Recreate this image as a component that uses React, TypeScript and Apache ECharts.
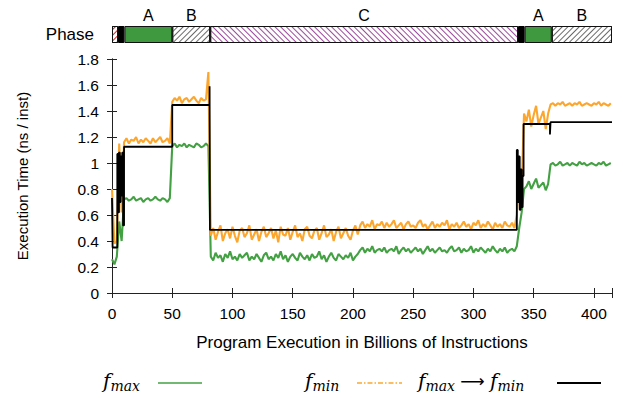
import React, { useEffect, useRef } from 'react';
import * as echarts from 'echarts';

// Phase bar
const phaseNames = ['', '', 'A', 'B', 'C', '', 'A', 'B'];
const phaseStart = [0, 5, 10.3, 50, 81.5, 337, 342.5, 365];
const phaseEnd = [5, 10.3, 50, 81.5, 337, 342.5, 365, 415];
const phaseKind = ['red', 'black', 'green', 'gray', 'purple', 'black', 'green', 'gray'];

// f_min samples (every 2 billion instructions from 0)
const fminVals = [
  0.80, 0.38, 0.40, 1.15, 0.62,
  1.16, 1.19, 1.15, 1.18, 1.17, 1.20, 1.15, 1.18, 1.16, 1.19, 1.17, 1.15, 1.19, 1.16, 1.18, 1.20, 1.16, 1.17, 1.19, 1.15,
  1.47, 1.50, 1.48, 1.51, 1.46, 1.49, 1.50, 1.47, 1.49, 1.51, 1.48, 1.46, 1.50, 1.48, 1.49, 1.70,
  0.44, 0.50, 0.41, 0.47, 0.52, 0.40, 0.46, 0.49, 0.42, 0.51, 0.44, 0.39, 0.48, 0.50, 0.43, 0.46, 0.52, 0.41, 0.45, 0.49,
  0.40, 0.47, 0.51, 0.43, 0.46, 0.50, 0.42, 0.48, 0.39, 0.51, 0.45, 0.44, 0.50, 0.41, 0.47, 0.52, 0.43, 0.46, 0.40, 0.49,
  0.51, 0.44, 0.42, 0.48, 0.50, 0.41, 0.46, 0.52, 0.43, 0.45, 0.49, 0.40, 0.47, 0.51, 0.42, 0.46, 0.50, 0.44, 0.41, 0.48,
  0.52, 0.45,
  0.52, 0.55, 0.50, 0.53, 0.51, 0.56, 0.49, 0.53, 0.52, 0.55, 0.50, 0.54, 0.51, 0.53, 0.56, 0.50, 0.52, 0.54, 0.49, 0.53,
  0.55, 0.51, 0.52, 0.50, 0.54, 0.56, 0.51, 0.53, 0.49, 0.52, 0.55, 0.50, 0.53, 0.51, 0.54, 0.52, 0.56, 0.49, 0.53, 0.51,
  0.54, 0.50, 0.52, 0.55, 0.51, 0.53, 0.49, 0.54, 0.52, 0.56, 0.50, 0.53, 0.51, 0.55, 0.52, 0.49, 0.54, 0.51, 0.53, 0.50,
  0.55, 0.52, 0.51, 0.54, 0.50,
  0.60, 0.95, 0.82, 1.38,
  1.32, 1.41, 1.28, 1.37, 1.44, 1.30, 1.35, 1.40, 1.26, 1.38,
  1.45, 1.46, 1.44, 1.46, 1.45, 1.47, 1.44, 1.45, 1.46, 1.44, 1.46, 1.45, 1.47, 1.44, 1.45, 1.46, 1.45, 1.44, 1.46, 1.45,
  1.47, 1.44, 1.46, 1.45, 1.44, 1.46,
];

// f_max samples (every 2 billion instructions from 0)
const fmaxVals = [
  0.26, 0.22, 0.28, 0.55, 0.40,
  0.72, 0.73, 0.71, 0.72, 0.74, 0.71, 0.72, 0.73, 0.70, 0.72, 0.73, 0.71, 0.72, 0.74, 0.72, 0.71, 0.73, 0.72, 0.70, 0.73,
  1.13, 1.15, 1.12, 1.14, 1.13, 1.15, 1.12, 1.14, 1.13, 1.12, 1.15, 1.14, 1.12, 1.13, 1.15, 1.13,
  0.28, 0.25, 0.31, 0.27, 0.29, 0.24, 0.30, 0.27, 0.32, 0.26, 0.28, 0.25, 0.30, 0.27, 0.29, 0.31, 0.25, 0.28, 0.26, 0.30,
  0.27, 0.24, 0.29, 0.31, 0.26, 0.28, 0.25, 0.30, 0.27, 0.32, 0.26, 0.29, 0.24, 0.28, 0.30, 0.27, 0.25, 0.31, 0.28, 0.26,
  0.29, 0.25, 0.30, 0.27, 0.28, 0.32, 0.26, 0.29, 0.24, 0.28, 0.31, 0.27, 0.25, 0.30, 0.28, 0.26, 0.29, 0.27, 0.31, 0.25,
  0.28, 0.30,
  0.33, 0.35, 0.31, 0.34, 0.32, 0.36, 0.31, 0.33, 0.34, 0.32, 0.35, 0.31, 0.33, 0.34, 0.32, 0.36, 0.30, 0.33, 0.35, 0.32,
  0.34, 0.31, 0.33, 0.35, 0.32, 0.34, 0.30, 0.33, 0.36, 0.32, 0.34, 0.31, 0.33, 0.35, 0.32, 0.33, 0.31, 0.34, 0.36, 0.32,
  0.33, 0.35, 0.31, 0.34, 0.32, 0.33, 0.36, 0.31, 0.34, 0.32, 0.35, 0.33, 0.31, 0.34, 0.32, 0.36, 0.33, 0.31, 0.34, 0.32,
  0.35, 0.31, 0.33, 0.34, 0.32,
  0.36, 0.50, 0.62, 0.80,
  0.82, 0.86, 0.80, 0.84, 0.88, 0.81, 0.83, 0.85, 0.79, 0.84,
  0.99, 1.00, 0.98, 0.99, 1.01, 0.98, 0.99, 1.00, 0.98, 1.00, 0.99, 0.98, 1.01, 0.99, 1.00, 0.98, 0.99, 1.00, 0.99, 0.98,
  1.00, 0.99, 1.01, 0.98, 0.99, 1.00,
];

// f_max -> f_min step line breakpoints
const transX = [
  0, 0.5, 0.5, 4.4, 4.4, 5.2, 5.2, 5.8, 5.8, 6.5, 6.5, 7.2, 7.2, 7.8, 7.8, 8.5, 8.5, 9.2, 9.2, 10, 10,
  50, 50, 81, 81, 81.3, 81.3, 336, 336, 336.8, 336.8, 337.6, 337.6, 338.4, 338.4, 339.2, 339.2, 340, 340,
  340.8, 340.8, 341.6, 341.6, 363.5, 363.5, 364, 364, 415,
];
const transY = [
  0.73, 0.73, 0.35, 0.35, 1.07, 1.07, 0.62, 0.62, 1.08, 1.08, 0.70, 0.70, 1.05, 1.05, 0.75, 0.75, 1.08, 1.08, 0.52, 0.52, 1.125,
  1.125, 1.446, 1.446, 1.59, 1.59, 0.485, 0.485, 1.10, 1.10, 0.70, 0.70, 1.05, 1.05, 0.64, 0.64, 0.95, 0.95, 0.66,
  0.66, 0.90, 0.90, 1.30, 1.30, 1.22, 1.22, 1.315, 1.315,
];

const xTicks = [0, 50, 100, 150, 200, 250, 300, 350, 400];

const GREEN = '#43a043';
const ORANGE = '#fca62e';
const FONT = '"Liberation Sans", Arial, Helvetica, sans-serif';
const MATH = '"DejaVu Serif", "Liberation Serif", serif';

function phaseStyle(kind: string): any {
  const hatch = (color: string, rot: number) => ({
    color: '#ffffff',
    borderColor: '#111',
    borderWidth: 1,
    decal: {
      symbol: 'rect',
      symbolSize: 1,
      dashArrayX: [1, 0],
      dashArrayY: [1, 3],
      rotation: rot,
      color,
    },
  });
  if (kind === 'black') return { color: '#000', borderColor: '#000', borderWidth: 1 };
  if (kind === 'green') return { color: '#3f9a3f', borderColor: '#111', borderWidth: 1 };
  if (kind === 'gray') return hatch('#6a6a6a', -Math.PI / 4);
  if (kind === 'purple') return hatch('#9b4c9b', Math.PI / 4);
  return hatch('#e02020', -Math.PI / 4);
}

function mathRich(): any {
  return {
    f: { fontFamily: MATH, fontStyle: 'italic', fontSize: 20, fill: '#000', lineHeight: 24 },
    s: { fontFamily: MATH, fontStyle: 'italic', fontSize: 14, fill: '#000', lineHeight: 17, verticalAlign: 'bottom' },
    a: { fontFamily: '"DejaVu Sans", sans-serif', fontSize: 17, fill: '#000', lineHeight: 24 },
  };
}

export default function App() {
  const ref = useRef<HTMLDivElement>(null);
  useEffect(() => {
    const chart = echarts.init(ref.current!, null, { renderer: 'svg' });
    const sampleX = fminVals.map((_, i) => i * 2);
    const phaseSeries = phaseNames.map((name, i) => ({
      type: 'bar',
      name: 'phase' + i,
      xAxisIndex: 2,
      yAxisIndex: 2,
      stack: 'phase',
      barWidth: '100%',
      data: [phaseEnd[i] - phaseStart[i]],
      itemStyle: phaseStyle(phaseKind[i]),
      label: {
        show: name !== '',
        position: 'top',
        distance: 3,
        formatter: name,
        fontFamily: FONT,
        fontSize: 16,
        color: '#000',
      },
      silent: true,
    }));
    const option: any = {
      animation: false,
      backgroundColor: '#ffffff',
      grid: [
        { left: 112, right: 11, top: 59, bottom: 105 },
        { left: 112, right: 11, top: 26, height: 17 },
      ],
      xAxis: [
        {
          type: 'value', gridIndex: 0, min: 0, max: 415, interval: 50, position: 'bottom',
          axisLine: { show: true, lineStyle: { color: '#222', width: 1 } },
          axisTick: { show: true, inside: true, length: 5, lineStyle: { color: '#222' } },
          splitLine: { show: false },
          axisLabel: {
            fontFamily: FONT, fontSize: 15.5, color: '#000', margin: 12,
            formatter: (v: number) => (xTicks.indexOf(v) >= 0 ? String(v) : ''),
          },
          name: 'Program Execution in Billions of Instructions',
          nameLocation: 'middle', nameGap: 41,
          nameTextStyle: { fontFamily: FONT, fontSize: 17, color: '#000' },
        },
        {
          type: 'value', gridIndex: 0, min: 0, max: 415, interval: 50, position: 'top',
          axisLine: { show: true, lineStyle: { color: '#222', width: 1 } },
          axisTick: { show: true, inside: true, length: 5, lineStyle: { color: '#222' } },
          splitLine: { show: false },
          axisLabel: { show: false },
        },
        { type: 'value', gridIndex: 1, min: 0, max: 415, show: false },
      ],
      yAxis: [
        {
          type: 'value', gridIndex: 0, min: 0, max: 1.8, interval: 0.2, position: 'left',
          axisLine: { show: true, lineStyle: { color: '#222', width: 1 } },
          axisTick: { show: true, inside: true, length: 5, lineStyle: { color: '#222' } },
          splitLine: { show: false },
          axisLabel: { fontFamily: FONT, fontSize: 15.5, color: '#000', margin: 13 },
          name: 'Execution Time (ns / inst)',
          nameLocation: 'middle', nameGap: 82,
          nameTextStyle: { fontFamily: FONT, fontSize: 15, color: '#000' },
        },
        {
          type: 'value', gridIndex: 0, min: 0, max: 1.8, interval: 0.2, position: 'right',
          axisLine: { show: true, lineStyle: { color: '#222', width: 1 } },
          axisTick: { show: true, inside: true, length: 5, lineStyle: { color: '#222' } },
          splitLine: { show: false },
          axisLabel: { show: false },
        },
        {
          type: 'category', gridIndex: 1, data: ['Phase'],
          axisLine: { show: false }, axisTick: { show: false },
          axisLabel: { fontFamily: FONT, fontSize: 17, color: '#000', margin: 18 },
        },
      ],
      series: [
        ...phaseSeries,
        {
          type: 'line', name: 'fmax', xAxisIndex: 0, yAxisIndex: 0,
          data: sampleX.map((x, i) => [x, fmaxVals[i]]),
          symbol: 'none', showSymbol: false,
          lineStyle: { color: GREEN, width: 2.1 }, z: 3,
        },
        {
          type: 'line', name: 'fmin', xAxisIndex: 0, yAxisIndex: 0,
          data: sampleX.map((x, i) => [x, fminVals[i]]),
          symbol: 'none', showSymbol: false,
          lineStyle: { color: ORANGE, width: 2.1 }, z: 4,
        },
        {
          type: 'line', name: 'trans', xAxisIndex: 0, yAxisIndex: 0,
          data: transX.map((x, i) => [x, transY[i]]),
          symbol: 'none', showSymbol: false,
          lineStyle: { color: '#000', width: 1.8 }, z: 5,
        },
      ],
      graphic: [
        {
          type: 'text', left: 103, top: 371,
          style: { text: '{f|f}{s|max}', rich: mathRich() },
        },
        { type: 'line', shape: { x1: 158, y1: 383, x2: 202, y2: 383 }, style: { stroke: GREEN, lineWidth: 1.6 } },
        {
          type: 'text', left: 305, top: 371,
          style: { text: '{f|f}{s|min}', rich: mathRich() },
        },
        {
          type: 'line', shape: { x1: 357, y1: 383, x2: 402, y2: 383 },
          style: { stroke: ORANGE, lineWidth: 1.6, lineDash: [5, 2, 1.5, 2] },
        },
        {
          type: 'text', left: 418, top: 371,
          style: { text: '{f|f}{s|max}{a| ⟶ }{f|f}{s|min}', rich: mathRich() },
        },
        { type: 'line', shape: { x1: 557, y1: 383, x2: 601, y2: 383 }, style: { stroke: '#000', lineWidth: 1.8 } },
      ],
    };
    chart.setOption(option);
    return () => chart.dispose();
  }, []);
  return <div ref={ref} style={{ position: 'fixed', left: 0, top: 0, width: 623, height: 398 }} />;
}
